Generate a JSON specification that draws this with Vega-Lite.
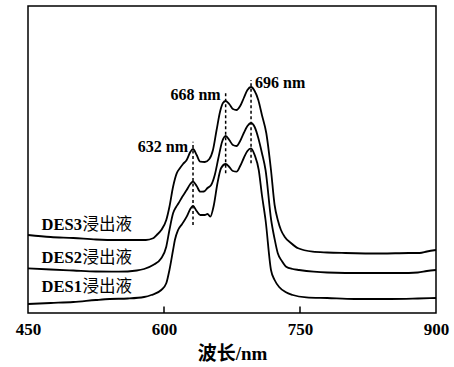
{
  "$schema": "https://vega.github.io/schema/vega-lite/v6.json",
  "width": 408,
  "height": 307,
  "autosize": {"type": "none"},
  "padding": {"left": 28, "top": 6, "right": 18, "bottom": 54},
  "config": {
    "view": {"stroke": "#000", "strokeWidth": 1.5},
    "font": "Liberation Serif"
  },
  "datasets": {
    "spectra": [
      {"sample": "DES3", "nm": 450, "A": 0.78}, {"sample": "DES3", "nm": 475, "A": 0.76}, {"sample": "DES3", "nm": 500, "A": 0.75},
      {"sample": "DES3", "nm": 525, "A": 0.735}, {"sample": "DES3", "nm": 550, "A": 0.73}, {"sample": "DES3", "nm": 570, "A": 0.73},
      {"sample": "DES3", "nm": 580, "A": 0.73}, {"sample": "DES3", "nm": 588, "A": 0.747}, {"sample": "DES3", "nm": 592, "A": 0.78},
      {"sample": "DES3", "nm": 597, "A": 0.83}, {"sample": "DES3", "nm": 602.5, "A": 0.93}, {"sample": "DES3", "nm": 606, "A": 1.063},
      {"sample": "DES3", "nm": 610, "A": 1.263}, {"sample": "DES3", "nm": 614, "A": 1.397}, {"sample": "DES3", "nm": 617.5, "A": 1.447},
      {"sample": "DES3", "nm": 621, "A": 1.49}, {"sample": "DES3", "nm": 625, "A": 1.53}, {"sample": "DES3", "nm": 629, "A": 1.61},
      {"sample": "DES3", "nm": 632, "A": 1.64}, {"sample": "DES3", "nm": 636, "A": 1.58}, {"sample": "DES3", "nm": 640, "A": 1.513},
      {"sample": "DES3", "nm": 645, "A": 1.51}, {"sample": "DES3", "nm": 650, "A": 1.54}, {"sample": "DES3", "nm": 654, "A": 1.63},
      {"sample": "DES3", "nm": 658, "A": 1.83}, {"sample": "DES3", "nm": 662, "A": 2.02}, {"sample": "DES3", "nm": 665, "A": 2.1},
      {"sample": "DES3", "nm": 668, "A": 2.12}, {"sample": "DES3", "nm": 672, "A": 2.09}, {"sample": "DES3", "nm": 676, "A": 2.04},
      {"sample": "DES3", "nm": 680, "A": 2.03}, {"sample": "DES3", "nm": 684, "A": 2.07}, {"sample": "DES3", "nm": 688, "A": 2.15},
      {"sample": "DES3", "nm": 692, "A": 2.23}, {"sample": "DES3", "nm": 696, "A": 2.26}, {"sample": "DES3", "nm": 700, "A": 2.22},
      {"sample": "DES3", "nm": 704, "A": 2.13}, {"sample": "DES3", "nm": 708, "A": 1.98}, {"sample": "DES3", "nm": 712.8, "A": 1.8},
      {"sample": "DES3", "nm": 718, "A": 1.43}, {"sample": "DES3", "nm": 722, "A": 1.08}, {"sample": "DES3", "nm": 725.5, "A": 0.93},
      {"sample": "DES3", "nm": 729, "A": 0.83}, {"sample": "DES3", "nm": 733, "A": 0.763}, {"sample": "DES3", "nm": 740, "A": 0.7},
      {"sample": "DES3", "nm": 748, "A": 0.647}, {"sample": "DES3", "nm": 764, "A": 0.613}, {"sample": "DES3", "nm": 780, "A": 0.605},
      {"sample": "DES3", "nm": 800, "A": 0.6}, {"sample": "DES3", "nm": 840, "A": 0.595}, {"sample": "DES3", "nm": 870, "A": 0.6},
      {"sample": "DES3", "nm": 882, "A": 0.6}, {"sample": "DES3", "nm": 890, "A": 0.615}, {"sample": "DES3", "nm": 900, "A": 0.63},

      {"sample": "DES2", "nm": 450, "A": 0.447}, {"sample": "DES2", "nm": 475, "A": 0.435}, {"sample": "DES2", "nm": 500, "A": 0.425},
      {"sample": "DES2", "nm": 525, "A": 0.415}, {"sample": "DES2", "nm": 550, "A": 0.413}, {"sample": "DES2", "nm": 570, "A": 0.425},
      {"sample": "DES2", "nm": 578, "A": 0.44}, {"sample": "DES2", "nm": 588, "A": 0.48}, {"sample": "DES2", "nm": 597, "A": 0.547},
      {"sample": "DES2", "nm": 602.5, "A": 0.663}, {"sample": "DES2", "nm": 606, "A": 0.83}, {"sample": "DES2", "nm": 610, "A": 0.997},
      {"sample": "DES2", "nm": 613.5, "A": 1.063}, {"sample": "DES2", "nm": 616, "A": 1.097}, {"sample": "DES2", "nm": 620, "A": 1.16},
      {"sample": "DES2", "nm": 625, "A": 1.23}, {"sample": "DES2", "nm": 629, "A": 1.29}, {"sample": "DES2", "nm": 632, "A": 1.313},
      {"sample": "DES2", "nm": 636, "A": 1.27}, {"sample": "DES2", "nm": 640, "A": 1.213}, {"sample": "DES2", "nm": 644, "A": 1.215},
      {"sample": "DES2", "nm": 648, "A": 1.25}, {"sample": "DES2", "nm": 652, "A": 1.28}, {"sample": "DES2", "nm": 656, "A": 1.38},
      {"sample": "DES2", "nm": 660, "A": 1.55}, {"sample": "DES2", "nm": 664, "A": 1.71}, {"sample": "DES2", "nm": 668, "A": 1.77},
      {"sample": "DES2", "nm": 672, "A": 1.73}, {"sample": "DES2", "nm": 676, "A": 1.68}, {"sample": "DES2", "nm": 680, "A": 1.67},
      {"sample": "DES2", "nm": 684, "A": 1.72}, {"sample": "DES2", "nm": 688, "A": 1.8}, {"sample": "DES2", "nm": 692, "A": 1.87},
      {"sample": "DES2", "nm": 696, "A": 1.9}, {"sample": "DES2", "nm": 700, "A": 1.86}, {"sample": "DES2", "nm": 704, "A": 1.75},
      {"sample": "DES2", "nm": 708, "A": 1.6}, {"sample": "DES2", "nm": 712, "A": 1.43}, {"sample": "DES2", "nm": 718.2, "A": 0.93},
      {"sample": "DES2", "nm": 722, "A": 0.74}, {"sample": "DES2", "nm": 725.5, "A": 0.597}, {"sample": "DES2", "nm": 730, "A": 0.52},
      {"sample": "DES2", "nm": 734.7, "A": 0.463}, {"sample": "DES2", "nm": 742, "A": 0.44}, {"sample": "DES2", "nm": 749, "A": 0.43},
      {"sample": "DES2", "nm": 765, "A": 0.413}, {"sample": "DES2", "nm": 780, "A": 0.405}, {"sample": "DES2", "nm": 820, "A": 0.4},
      {"sample": "DES2", "nm": 860, "A": 0.4}, {"sample": "DES2", "nm": 880, "A": 0.405}, {"sample": "DES2", "nm": 890, "A": 0.42},
      {"sample": "DES2", "nm": 900, "A": 0.43},

      {"sample": "DES1", "nm": 450, "A": 0.09}, {"sample": "DES1", "nm": 475, "A": 0.1}, {"sample": "DES1", "nm": 500, "A": 0.11},
      {"sample": "DES1", "nm": 525, "A": 0.13}, {"sample": "DES1", "nm": 540, "A": 0.14}, {"sample": "DES1", "nm": 560, "A": 0.145},
      {"sample": "DES1", "nm": 578, "A": 0.16}, {"sample": "DES1", "nm": 586, "A": 0.18}, {"sample": "DES1", "nm": 597, "A": 0.23},
      {"sample": "DES1", "nm": 602.5, "A": 0.297}, {"sample": "DES1", "nm": 606, "A": 0.43}, {"sample": "DES1", "nm": 610, "A": 0.63},
      {"sample": "DES1", "nm": 612, "A": 0.73}, {"sample": "DES1", "nm": 615.5, "A": 0.83}, {"sample": "DES1", "nm": 620, "A": 0.89},
      {"sample": "DES1", "nm": 625, "A": 0.963}, {"sample": "DES1", "nm": 629, "A": 1.04}, {"sample": "DES1", "nm": 632, "A": 1.07},
      {"sample": "DES1", "nm": 636, "A": 1.02}, {"sample": "DES1", "nm": 640, "A": 0.98}, {"sample": "DES1", "nm": 645, "A": 0.98},
      {"sample": "DES1", "nm": 648, "A": 0.99}, {"sample": "DES1", "nm": 651, "A": 0.963}, {"sample": "DES1", "nm": 655, "A": 1.08},
      {"sample": "DES1", "nm": 659, "A": 1.3}, {"sample": "DES1", "nm": 663, "A": 1.45}, {"sample": "DES1", "nm": 668, "A": 1.49},
      {"sample": "DES1", "nm": 672, "A": 1.46}, {"sample": "DES1", "nm": 676, "A": 1.42}, {"sample": "DES1", "nm": 680, "A": 1.413},
      {"sample": "DES1", "nm": 684, "A": 1.47}, {"sample": "DES1", "nm": 688, "A": 1.55}, {"sample": "DES1", "nm": 692, "A": 1.62},
      {"sample": "DES1", "nm": 696, "A": 1.647}, {"sample": "DES1", "nm": 700, "A": 1.58}, {"sample": "DES1", "nm": 704.5, "A": 1.43},
      {"sample": "DES1", "nm": 708, "A": 1.18}, {"sample": "DES1", "nm": 712, "A": 0.93}, {"sample": "DES1", "nm": 718, "A": 0.43},
      {"sample": "DES1", "nm": 722, "A": 0.33}, {"sample": "DES1", "nm": 727, "A": 0.26}, {"sample": "DES1", "nm": 734, "A": 0.21},
      {"sample": "DES1", "nm": 742, "A": 0.18}, {"sample": "DES1", "nm": 757, "A": 0.157}, {"sample": "DES1", "nm": 780, "A": 0.15},
      {"sample": "DES1", "nm": 810, "A": 0.14}, {"sample": "DES1", "nm": 850, "A": 0.14}, {"sample": "DES1", "nm": 880, "A": 0.145},
      {"sample": "DES1", "nm": 900, "A": 0.15}
    ],
    "peaks": [
      {"nm": 632, "lo": 0.88, "hi": 1.713, "labelA": 1.613, "label": "632 nm", "side": "left"},
      {"nm": 668, "lo": 1.397, "hi": 2.213, "labelA": 2.13, "label": "668 nm", "side": "left"},
      {"nm": 696, "lo": 1.497, "hi": 2.33, "labelA": 2.247, "label": "696 nm", "side": "right"}
    ],
    "samples": [
      {"sample": "DES3", "suffix": "浸出液", "A": 0.83},
      {"sample": "DES2", "suffix": "浸出液", "A": 0.497},
      {"sample": "DES1", "suffix": "浸出液", "A": 0.213}
    ],
    "ticks": [
      {"nm": 600},
      {"nm": 750}
    ]
  },
  "encoding": {
    "x": {
      "type": "quantitative",
      "scale": {"domain": [450, 900], "nice": false, "zero": false}
    },
    "y": {
      "type": "quantitative",
      "scale": {"domain": [0, 3.07], "nice": false, "zero": false},
      "axis": null
    }
  },
  "layer": [
    {
      "data": {"name": "spectra"},
      "mark": {"type": "line", "interpolate": "monotone", "color": "#000", "strokeWidth": 1.8},
      "encoding": {
        "x": {
          "field": "nm",
          "type": "quantitative",
          "axis": {
            "values": [450, 600, 750, 900],
            "title": "波长/nm",
            "titleFont": "Liberation Serif, Noto Sans CJK SC",
            "titleFontSize": 19,
            "titleFontWeight": "bold",
            "titleColor": "#000",
            "titleY": 46,
            "titleBaseline": "alphabetic",
            "labelFont": "Liberation Serif",
            "labelFontSize": 17,
            "labelFontWeight": "bold",
            "labelColor": "#000",
            "labelPadding": 8,
            "labelFlush": false,
            "labelOverlap": false,
            "ticks": false,
            "domain": false,
            "grid": false
          }
        },
        "y": {"field": "A", "type": "quantitative"},
        "detail": {"field": "sample"}
      }
    },
    {
      "data": {"name": "ticks"},
      "mark": {"type": "rule", "color": "#000", "strokeWidth": 1.5},
      "encoding": {
        "x": {"field": "nm", "type": "quantitative"},
        "y": {"datum": 0},
        "y2": {"datum": 0.065}
      }
    },
    {
      "data": {"name": "peaks"},
      "mark": {"type": "rule", "color": "#000", "strokeWidth": 1.5, "strokeDash": [3, 2.5]},
      "encoding": {
        "x": {"field": "nm", "type": "quantitative"},
        "y": {"field": "lo", "type": "quantitative"},
        "y2": {"field": "hi"}
      }
    },
    {
      "data": {"name": "peaks"},
      "transform": [{"filter": "datum.side === 'left'"}],
      "mark": {"type": "text", "align": "right", "baseline": "alphabetic", "dx": -5, "font": "Liberation Serif", "fontWeight": "bold", "fontSize": 16, "color": "#000"},
      "encoding": {
        "x": {"field": "nm", "type": "quantitative"},
        "y": {"field": "labelA", "type": "quantitative"},
        "text": {"field": "label"}
      }
    },
    {
      "data": {"name": "peaks"},
      "transform": [{"filter": "datum.side === 'right'"}],
      "mark": {"type": "text", "align": "left", "baseline": "alphabetic", "dx": 4, "font": "Liberation Serif", "fontWeight": "bold", "fontSize": 16, "color": "#000"},
      "encoding": {
        "x": {"field": "nm", "type": "quantitative"},
        "y": {"field": "labelA", "type": "quantitative"},
        "text": {"field": "label"}
      }
    },
    {
      "data": {"name": "samples"},
      "mark": {"type": "text", "align": "left", "baseline": "alphabetic", "font": "Liberation Serif", "fontWeight": "bold", "fontSize": 16.5, "color": "#000"},
      "encoding": {
        "x": {"datum": 465},
        "y": {"field": "A", "type": "quantitative"},
        "text": {"field": "sample"}
      }
    },
    {
      "data": {"name": "samples"},
      "mark": {"type": "text", "align": "left", "baseline": "alphabetic", "dx": 41, "font": "Noto Sans CJK SC", "fontWeight": "normal", "fontSize": 16.5, "color": "#000"},
      "encoding": {
        "x": {"datum": 465},
        "y": {"field": "A", "type": "quantitative"},
        "text": {"field": "suffix"}
      }
    }
  ]
}
